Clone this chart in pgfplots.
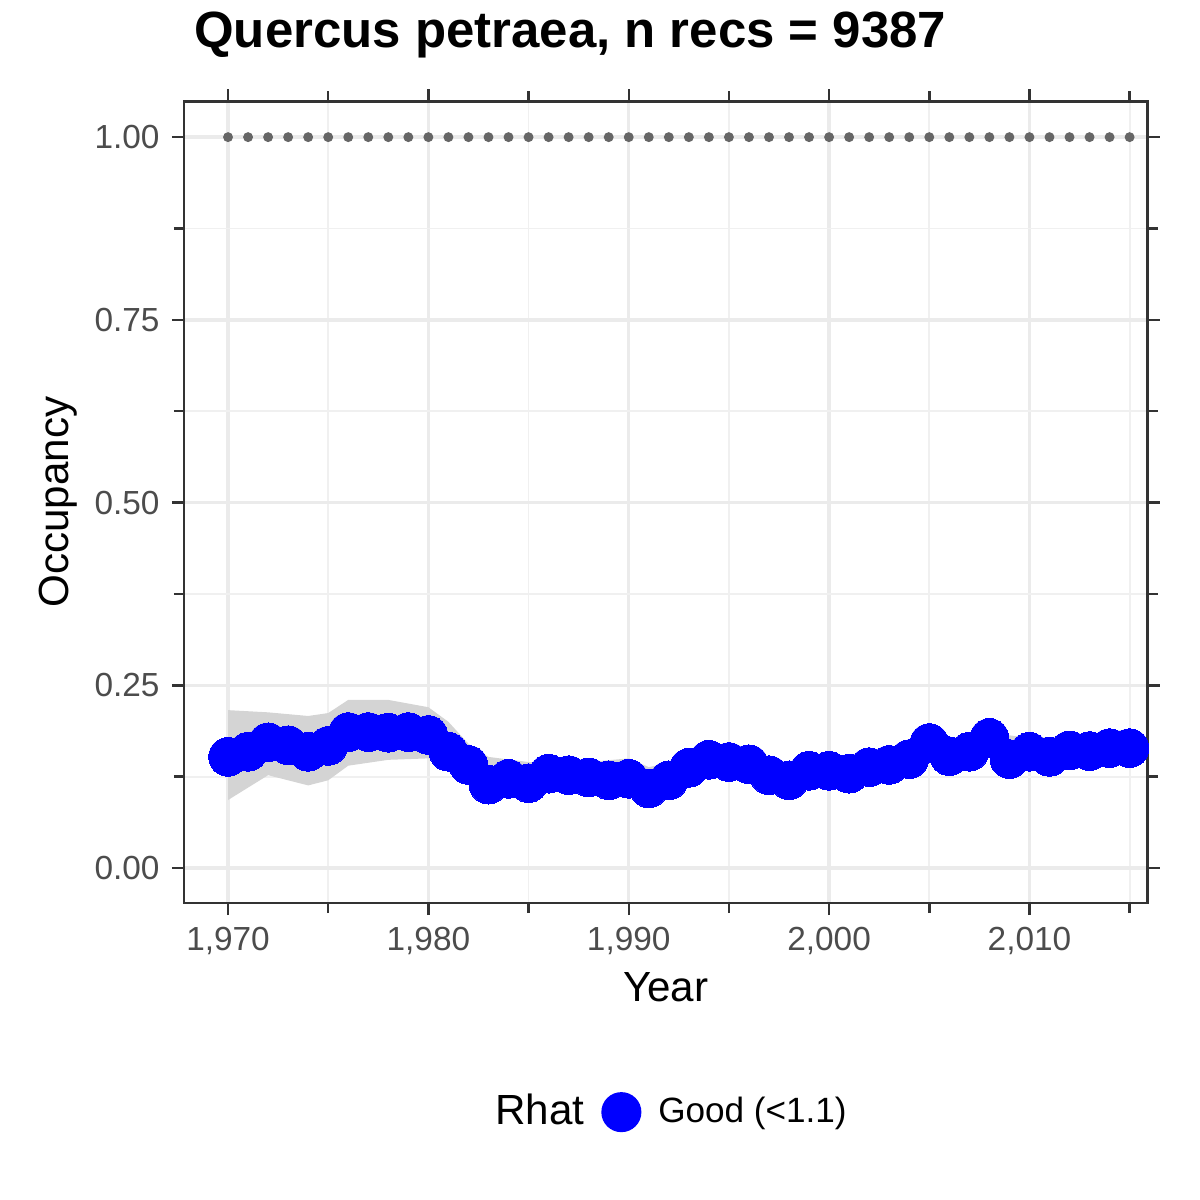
\documentclass[border=0pt]{standalone}
\usepackage{pgfplots}
\pgfplotsset{compat=1.18}
\usepackage{fontspec}
\setmainfont{Liberation Sans}
\begin{document}
\begin{tikzpicture}
\path (0,0) rectangle (12,12);
\begin{axis}[at={(1.84cm,2.97cm)}, anchor=south west, scale only axis,
 width=9.64cm, height=8.02cm, xmin=1967.8, xmax=2015.9, ymin=-0.048, ymax=1.049,
 xtick={1970,1980,1990,2000,2010}, ytick={0,0.25,0.5,0.75,1},
 minor xtick={1975,1985,1995,2005,2015}, minor ytick={0.125,0.375,0.625,0.875},
 yticklabels={0.00,0.25,0.50,0.75,1.00},
 grid=both, major grid style={black!8, line width=1pt}, minor grid style={black!6, line width=0.5pt},
 axis line style={black!80, line width=0.7pt}, tick style={black!80, line width=0.7pt},
 tick align=outside, major tick length=0.12cm,
 ticklabel style={font=\fontsize{9.5}{11}\selectfont, text=black!70},
 /pgf/number format/assume math mode=true,
 xlabel={Year}, ylabel={Occupancy},
 label style={font=\fontsize{12}{14}\selectfont},
 xlabel style={yshift=2pt}, ylabel style={yshift=-2pt},
 title={\textbf{Quercus petraea, n recs = 9387}},
 title style={font=\fontsize{14.5}{16}\selectfont, anchor=south west, at={(0,1)}, yshift=0.1cm, xshift=-0.02cm},
 legend columns=2,
 legend style={at={(0.5,-0.22)}, anchor=north, draw=none, fill=none, font=\fontsize{10}{12}\selectfont, column sep=3pt},
 legend cell align=left,
]
\addplot[fill=black!17, draw=none, forget plot] coordinates {
(1970,0.216)(1972,0.213)(1974,0.208)(1975,0.212)(1976,0.23)(1978,0.23)(1980,0.22)(1981,0.20)(1982,0.17)(1983,0.152)(1985,0.145)(1988,0.145)(1990,0.15)(1991,0.138)(1993,0.15)(1995,0.16)(1997,0.152)(1998,0.142)(2000,0.148)(2002,0.155)(2004,0.163)(2005,0.18)(2007,0.175)(2008,0.185)(2010,0.178)(2012,0.18)(2015,0.19)
(2015,0.145)(2012,0.145)(2010,0.142)(2008,0.16)(2007,0.145)(2005,0.155)(2004,0.135)(2002,0.125)(2000,0.12)(1998,0.105)(1997,0.112)(1995,0.13)(1993,0.122)(1991,0.095)(1990,0.105)(1988,0.108)(1985,0.105)(1983,0.10)(1982,0.118)(1981,0.145)(1980,0.15)(1978,0.148)(1976,0.14)(1975,0.12)(1974,0.113)(1972,0.127)(1970,0.093)
} -- cycle;
\addplot[black!60, only marks, mark=*, mark size=1.2pt, forget plot] coordinates {
(1970,1)(1971,1)(1972,1)(1973,1)(1974,1)(1975,1)(1976,1)(1977,1)(1978,1)(1979,1)(1980,1)(1981,1)(1982,1)(1983,1)(1984,1)(1985,1)(1986,1)(1987,1)(1988,1)(1989,1)(1990,1)(1991,1)(1992,1)(1993,1)(1994,1)(1995,1)(1996,1)(1997,1)(1998,1)(1999,1)(2000,1)(2001,1)(2002,1)(2003,1)(2004,1)(2005,1)(2006,1)(2007,1)(2008,1)(2009,1)(2010,1)(2011,1)(2012,1)(2013,1)(2014,1)(2015,1)};
\addplot[blue, line width=5pt, mark=*, mark size=5.5pt, mark options={fill=blue, draw=blue, line width=0pt}, forget plot] coordinates {
(1970,0.152)(1971,0.159)(1972,0.172)(1973,0.168)(1974,0.159)(1975,0.167)(1976,0.186)(1977,0.186)(1978,0.185)(1979,0.186)(1980,0.182)(1981,0.159)(1982,0.141)(1983,0.114)(1984,0.122)(1985,0.116)(1986,0.129)(1987,0.127)(1988,0.124)(1989,0.120)(1990,0.122)(1991,0.109)(1992,0.120)(1993,0.137)(1994,0.148)(1995,0.145)(1996,0.142)(1997,0.127)(1998,0.120)(1999,0.133)(2000,0.133)(2001,0.129)(2002,0.138)(2003,0.141)(2004,0.149)(2005,0.171)(2006,0.153)(2007,0.159)(2008,0.178)(2009,0.149)(2010,0.159)(2011,0.152)(2012,0.161)(2013,0.160)(2014,0.164)(2015,0.164)};
\addlegendimage{empty legend}
\addlegendentry{\fontsize{12}{14}\selectfont Rhat}
\addlegendimage{only marks, mark=*, mark size=5.5pt, blue, mark options={fill=blue}}
\addlegendentry{Good (<1.1)}
\end{axis}
\end{tikzpicture}
\end{document}
